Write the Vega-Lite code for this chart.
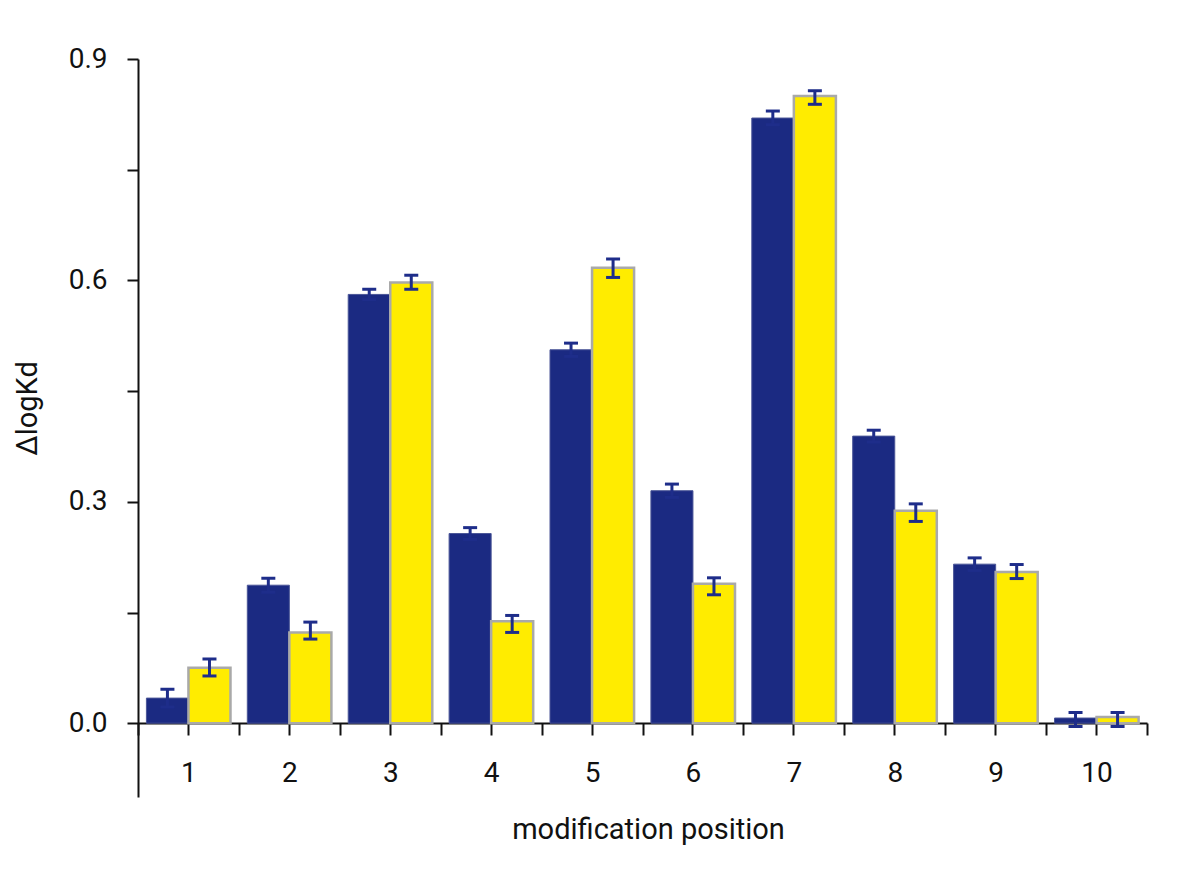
{
  "$schema": "https://vega.github.io/schema/vega-lite/v6.json",
  "width": 1009,
  "height": 738,
  "autosize": "none",
  "padding": {"left": 138, "top": 59, "right": 53, "bottom": 74},
  "background": "white",
  "config": {
    "view": {"stroke": null},
    "font": "Roboto",
    "axis": {
      "domainColor": "#111111",
      "domainWidth": 2,
      "tickColor": "#111111",
      "tickWidth": 2,
      "grid": false,
      "labelFont": "Roboto",
      "labelFontWeight": "normal",
      "labelFontSize": 28,
      "labelColor": "#111111",
      "titleFont": "Roboto",
      "titleFontWeight": "normal",
      "titleFontSize": 29,
      "titleColor": "#111111"
    }
  },
  "data": {
    "values": [
      {"pos": "1", "series": "A", "value": 0.034, "lo": 0.022, "hi": 0.046},
      {"pos": "1", "series": "B", "value": 0.075, "lo": 0.064, "hi": 0.087},
      {"pos": "2", "series": "A", "value": 0.187, "lo": 0.1775, "hi": 0.1965},
      {"pos": "2", "series": "B", "value": 0.123, "lo": 0.114, "hi": 0.137},
      {"pos": "3", "series": "A", "value": 0.581, "lo": 0.574, "hi": 0.588},
      {"pos": "3", "series": "B", "value": 0.597, "lo": 0.588, "hi": 0.607},
      {"pos": "4", "series": "A", "value": 0.257, "lo": 0.249, "hi": 0.265},
      {"pos": "4", "series": "B", "value": 0.138, "lo": 0.123, "hi": 0.146},
      {"pos": "5", "series": "A", "value": 0.506, "lo": 0.497, "hi": 0.515},
      {"pos": "5", "series": "B", "value": 0.617, "lo": 0.604, "hi": 0.629},
      {"pos": "6", "series": "A", "value": 0.315, "lo": 0.306, "hi": 0.324},
      {"pos": "6", "series": "B", "value": 0.189, "lo": 0.174, "hi": 0.197},
      {"pos": "7", "series": "A", "value": 0.82, "lo": 0.811, "hi": 0.8295},
      {"pos": "7", "series": "B", "value": 0.85, "lo": 0.8386, "hi": 0.857},
      {"pos": "8", "series": "A", "value": 0.389, "lo": 0.381, "hi": 0.397},
      {"pos": "8", "series": "B", "value": 0.288, "lo": 0.2734, "hi": 0.2972},
      {"pos": "9", "series": "A", "value": 0.2155, "lo": 0.207, "hi": 0.224},
      {"pos": "9", "series": "B", "value": 0.205, "lo": 0.196, "hi": 0.215},
      {"pos": "10", "series": "A", "value": 0.007, "lo": -0.0045, "hi": 0.0145},
      {"pos": "10", "series": "B", "value": 0.0085, "lo": -0.0045, "hi": 0.0145}
    ]
  },
  "layer": [
    {
      "mark": {"type": "bar"},
      "encoding": {
        "x": {
          "field": "pos", "type": "ordinal", "sort": null,
          "scale": {"paddingInner": 0, "paddingOuter": 0},
          "axis": {
            "orient": "bottom", "offset": -74, "tickBand": "extent", "tickSize": 12,
            "labelAngle": 0, "labelBaseline": "middle", "labelPadding": 38,
            "title": "modification position", "titleY": 106, "titleX": 510,
            "titleAlign": "center", "titleBaseline": "middle"
          }
        },
        "xOffset": {"field": "series", "type": "nominal", "scale": {"paddingOuter": 0.2, "paddingInner": 0}},
        "y": {
          "field": "value", "type": "quantitative",
          "scale": {"domain": [-0.1, 0.9], "nice": false, "zero": false},
          "axis": {
            "values": [0, 0.15, 0.3, 0.45, 0.6, 0.75, 0.9],
            "labelExpr": "indexof([0, 0.3, 0.6, 0.9], datum.value) >= 0 ? format(datum.value, '.1f') : ''",
            "tickSize": 11, "labelPadding": 20, "labelFlush": false,
            "title": "ΔlogKd", "titleAngle": -90, "titleX": -102, "titleY": 349,
            "titleAlign": "center", "titleBaseline": "alphabetic"
          }
        },
        "fill": {"field": "series", "type": "nominal", "scale": {"domain": ["A", "B"], "range": ["#1b2a82", "#ffec00"]}, "legend": null},
        "stroke": {"field": "series", "type": "nominal", "scale": {"domain": ["A", "B"], "range": ["#4a5597", "#a9a9a9"]}, "legend": null},
        "strokeWidth": {"field": "series", "type": "nominal", "scale": {"domain": ["A", "B"], "range": [1, 2.5]}, "legend": null}
      }
    },
    {
      "mark": {"type": "rule", "color": "#1e2d8a", "strokeWidth": 3, "opacity": 1},
      "encoding": {
        "x": {
          "field": "pos", "type": "ordinal", "sort": null,
          "axis": {"orient": "bottom", "offset": -74, "tickBand": "center", "tickSize": 12, "labels": false, "domain": false, "title": null}
        },
        "xOffset": {"field": "series", "type": "nominal"},
        "y": {"field": "lo", "type": "quantitative", "axis": {"title": "ΔlogKd"}},
        "y2": {"field": "hi"}
      }
    },
    {
      "mark": {"type": "tick", "color": "#1e2d8a", "thickness": 3, "size": 14, "orient": "horizontal", "opacity": 1},
      "encoding": {
        "x": {"field": "pos", "type": "ordinal", "sort": null, "axis": null},
        "xOffset": {"field": "series", "type": "nominal"},
        "y": {"field": "lo", "type": "quantitative", "axis": {"title": "ΔlogKd"}}
      }
    },
    {
      "mark": {"type": "tick", "color": "#1e2d8a", "thickness": 3, "size": 14, "orient": "horizontal", "opacity": 1},
      "encoding": {
        "x": {"field": "pos", "type": "ordinal", "sort": null, "axis": null},
        "xOffset": {"field": "series", "type": "nominal"},
        "y": {"field": "hi", "type": "quantitative", "axis": {"title": "ΔlogKd"}}
      }
    }
  ],
  "resolve": {"axis": {"x": "independent"}}
}
